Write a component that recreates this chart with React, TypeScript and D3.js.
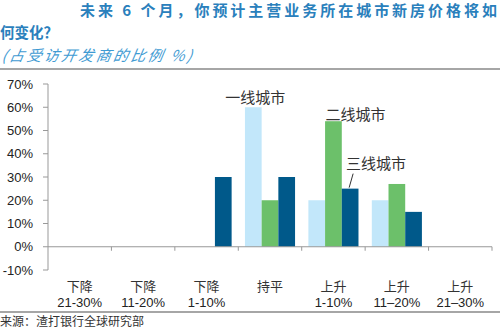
import React from "react";
import * as d3 from "d3";

const categoryTop = ["下降", "下降", "下降", "持平", "上升", "上升", "上升"];
const categoryBottom = ["21-30%", "11-20%", "1-10%", "", "1-10%", "11–20%", "21–30%"];
const seriesNames = ["一线城市", "二线城市", "三线城市"];
const tier1 = [0, 0, 0, 60, 20, 20, 0];
const tier2 = [0, 0, 0, 20, 54, 27, 0];
const tier3 = [0, 0, 30, 30, 25, 15, 0];
const yTicks = [-10, 0, 10, 20, 30, 40, 50, 60, 70];
const colors = ["#C2E7FA", "#6CC06A", "#00598A"];

const W = 500, H = 331;
const left = 48, right = 492, top = 84, bottom = 270;

export default function App() {
  const idx = categoryTop.map((_, i) => i);
  const x = d3.scaleBand<number>().domain(idx).range([left, right]).paddingInner(0.21).paddingOuter(0.105);
  const xs = d3.scaleBand<number>().domain([0, 1, 2]).range([0, x.bandwidth()]);
  const y = d3.scaleLinear().domain([-10, 70]).range([bottom, top]);
  const series = [tier1, tier2, tier3];
  const step = x.step();
  const cjk = "'Noto Sans CJK SC', sans-serif";
  const sans = "'Liberation Sans', Arial, sans-serif";

  const labelPos = [
    { s: 0, c: 3, dx: 2, dy: -4 },
    { s: 1, c: 4, dx: 22, dy: -1 },
  ];
  const t3x = x(4)! + xs(2)! + xs.bandwidth() / 2;
  const t3top = y(tier3[4]);

  return (
    <svg width={W} height={H} style={{ position: "absolute", left: 0, top: 0, background: "#fff" }}>
      <text x={80} y={16} fontFamily={cjk} fontSize={15} fontWeight="bold" fill="#2A80BC" textLength={417} lengthAdjust="spacing">未来 6 个月，你预计主营业务所在城市新房价格将如</text>
      <text x={0} y={38} fontFamily={cjk} fontSize={14.5} fontWeight="bold" fill="#2A80BC">何变化？</text>
      <text x={1} y={61} fontFamily={cjk} fontSize={15} fontStyle="italic" fill="#3F9BD3" textLength={190} lengthAdjust="spacing" transform="skewX(-10) translate(11,0)">(占受访开发商的比例 %)</text>
      <line x1={0} x2={W} y1={69} y2={69} stroke="#A6A6A6" strokeWidth={2} />

      {series.map((vals, s) =>
        vals.map((v, i) =>
          v === 0 ? null : (
            <rect key={`${s}-${i}`} x={x(i)! + xs(s)!} width={xs.bandwidth()} y={Math.min(y(v), y(0))} height={Math.abs(y(0) - y(v))} fill={colors[s]} />
          )
        )
      )}

      <line x1={left} x2={left} y1={top} y2={bottom} stroke="#999" />
      {yTicks.map((t) => (
        <g key={t}>
          <line x1={left - 5} x2={left} y1={y(t)} y2={y(t)} stroke="#999" />
          <text x={33} y={y(t)} dy="0.35em" textAnchor="end" fontFamily={sans} fontSize={13} fill="#222">{t}%</text>
        </g>
      ))}
      <line x1={left} x2={right} y1={y(0)} y2={y(0)} stroke="#999" />
      {idx.map((i) => (
        <line key={i} x1={left + step * (i + 1)} x2={left + step * (i + 1)} y1={y(0)} y2={y(0) + 4} stroke="#999" />
      ))}
      {idx.map((i) => {
        const cx = x(i)! + x.bandwidth() / 2;
        return (
          <g key={i}>
            <text x={cx} y={291} textAnchor="middle" fontFamily={cjk} fontSize={13} fill="#333">{categoryTop[i]}</text>
            <text x={cx} y={307} textAnchor="middle" fontFamily={sans} fontSize={13} fill="#222">{categoryBottom[i]}</text>
          </g>
        );
      })}

      {labelPos.map(({ s, c, dx, dy }) => (
        <text key={s} x={x(c)! + xs(s)! + xs.bandwidth() / 2 + dx} y={y(series[s][c]) + dy} textAnchor="middle" fontFamily={cjk} fontSize={15} fill="#333">{seriesNames[s]}</text>
      ))}
      <text x={t3x + 26} y={t3top - 20} textAnchor="middle" fontFamily={cjk} fontSize={15} fill="#333">{seriesNames[2]}</text>
      <line x1={t3x + 3} y1={t3top - 15} x2={t3x - 1} y2={t3top - 1} stroke="#333" />

      <line x1={0} x2={W} y1={312} y2={312} stroke="#A6A6A6" strokeWidth={2} />
      <text x={0} y={326} fontFamily={cjk} fontSize={12} fill="#333">来源：渣打银行全球研究部</text>
    </svg>
  );
}
